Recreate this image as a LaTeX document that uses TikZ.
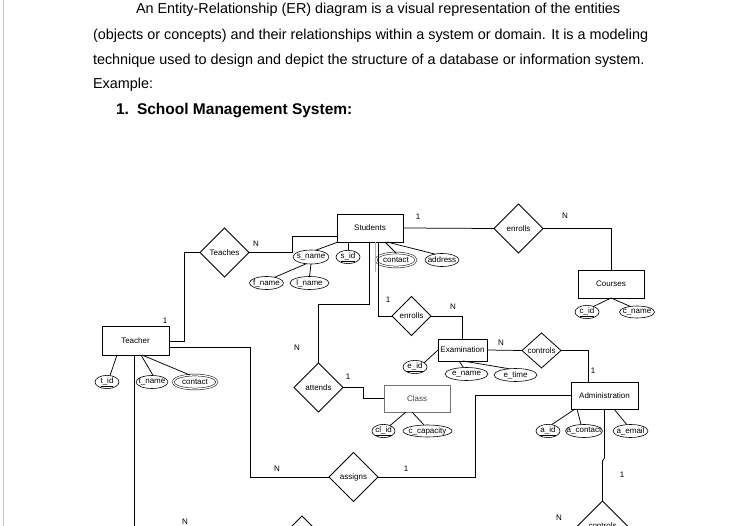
\documentclass[tikz,border=0pt]{standalone}
\usepackage{fontspec}
\setmainfont{Liberation Sans}
\usetikzlibrary{shapes.geometric}
\begin{document}
\begin{tikzpicture}[x=1pt,y=-1pt,
  every node/.style={inner sep=0pt, outer sep=0pt, font=\fontsize{8}{9}\selectfont},
  entbox/.style={draw, rectangle, line width=0.8pt},
  relbox/.style={draw, diamond, line width=0.8pt},
  attr/.style={draw, ellipse, line width=0.6pt},
  dattr/.style={draw, ellipse, line width=0.5pt, double, double distance=1.3pt},
  conn/.style={line width=0.75pt},
  card/.style={font=\fontsize{8}{9}\selectfont},
  bodytext/.style={anchor=base west, font=\fontsize{14.4}{16}\selectfont},
]
\useasboundingbox (0,0) rectangle (733,526);
\fill[white] (0,0) rectangle (733,526);
\draw[gray!45, line width=0.8pt] (3,0) -- (3,526);

% paragraph
\node[bodytext] (p1) at (136,14) {An Entity-Relationship (ER) diagram is a visual representation of the entities};
\node[bodytext] (p2) at (93,39.5) {(objects or concepts) and their relationships within a system or domain. It is a modeling};
\node[bodytext] (p3) at (93,64.5) {technique used to design and depict the structure of a database or information system.};
\node[bodytext] (p4) at (93,89) {Example:};
\node[anchor=base west, font=\fontsize{15.5}{17}\selectfont\bfseries] (h1) at (116,114.5) {1.};
\node[anchor=base west, font=\fontsize{15.5}{17}\selectfont\bfseries] (h2) at (137,114.5) {School Management System:};

% entities
\node[entbox, minimum width=66, minimum height=28] (students) at (370,228) {\makebox[0pt]{Students}};
\node[entbox, minimum width=66, minimum height=28] (courses) at (611,284) {\makebox[0pt]{Courses}};
\node[entbox, minimum width=67, minimum height=29] (teacher) at (135.5,340.5) {\makebox[0pt]{Teacher}};
\node[entbox, minimum width=49, minimum height=22] (exam) at (462.5,350) {\makebox[0pt]{Examination}};
\node[entbox, draw=black!55, text=black!75, minimum width=66, minimum height=27] (class) at (417,398.5) {\makebox[0pt]{Class}};
\node[entbox, minimum width=67, minimum height=27] (admin) at (604.5,395.5) {\makebox[0pt]{Administration}};

% relationships
\node[relbox, minimum width=49, minimum height=49] (teaches) at (224.5,252.5) {\makebox[0pt]{Teaches}};
\node[relbox, minimum width=49, minimum height=49] (enrolls) at (518.5,228.5) {\makebox[0pt]{enrolls}};
\node[relbox, minimum width=39, minimum height=39] (enrolls2) at (411.5,316) {\makebox[0pt]{enrolls}};
\node[relbox, minimum width=49, minimum height=49] (attends) at (318.5,387.5) {\makebox[0pt]{attends}};
\node[relbox, minimum width=39, minimum height=35] (controls) at (541.5,350.5) {\makebox[0pt]{controls}};
\node[relbox, minimum width=49, minimum height=49] (assigns) at (353.5,477) {\makebox[0pt]{assigns}};
\node[relbox, minimum width=50, minimum height=50] (controlsb) at (602.5,526) {\makebox[0pt]{controls}};
\node[relbox, minimum width=50, minimum height=50] (relbl) at (302,541) {};

% attributes
\node[attr, minimum width=36, minimum height=14] (sname) at (311,257) {\makebox[0pt]{s\_name}};
\node[attr, minimum width=24, minimum height=13] (sid) at (348,257) {\makebox[0pt]{\underline{s\_id}}};
\node[dattr, minimum width=40, minimum height=14] (scontact) at (396,260) {\makebox[0pt]{contact}};
\node[attr, minimum width=34, minimum height=13] (address) at (442,260) {\makebox[0pt]{address}};
\node[attr, minimum width=34, minimum height=13] (fname) at (266.5,283) {\makebox[0pt]{f\_name}};
\node[attr, minimum width=39, minimum height=13] (lname) at (309.5,283) {\makebox[0pt]{l\_name}};
\node[attr, minimum width=24, minimum height=12] (cid) at (587,312) {\makebox[0pt]{\underline{c\_id}}};
\node[attr, minimum width=35, minimum height=12] (cname) at (637,312) {\makebox[0pt]{c\_name}};
\node[attr, minimum width=24, minimum height=13] (tid) at (107,382) {\makebox[0pt]{\underline{t\_id}}};
\node[attr, minimum width=32, minimum height=13] (tname) at (152,382) {\makebox[0pt]{t\_name}};
\node[dattr, minimum width=44, minimum height=14] (tcontact) at (195,382) {\makebox[0pt]{contact}};
\node[attr, minimum width=24, minimum height=12] (eid) at (415,367) {\makebox[0pt]{\underline{e\_id}}};
\node[attr, minimum width=43, minimum height=13] (ename) at (466.5,374) {\makebox[0pt]{e\_name}};
\node[attr, minimum width=43, minimum height=13] (etime) at (515.5,375) {\makebox[0pt]{e\_time}};
\node[attr, minimum width=23, minimum height=12] (clid) at (383.5,431) {\makebox[0pt]{\underline{cl\_id}}};
\node[attr, minimum width=49, minimum height=12] (ccap) at (427.5,431) {\makebox[0pt]{c\_capacity}};
\node[attr, minimum width=24, minimum height=12] (aid) at (548,431) {\makebox[0pt]{\underline{a\_id}}};
\node[attr, minimum width=37, minimum height=13] (acontact) at (584,431) {\makebox[0pt]{a\_contact}};
\node[attr, minimum width=35, minimum height=13] (aemail) at (630.5,431) {\makebox[0pt]{a\_email}};

% free ends
\coordinate (tbot) at (134,530);

% connectors
\draw[conn] (teacher.east |- 0,341) -- (184,341) |- (teaches.west);
\draw[conn] (teaches.east) -- (292,252.5) |- (students.west |- 0,236);
\draw[conn] (students.east) -- (enrolls.west);
\draw[conn] (enrolls.east) -- (611,228.5) -- (courses.north);
\draw[conn] (students.south -| 378,0) |- (enrolls2.west);
\draw[gray!60, line width=0.8pt] (students.south -| 375,0) -- (375,272);
\draw[conn] (enrolls2.east) -| (exam.north);
\draw[conn] (students.south -| 369,0) -- (369,304) -| (attends.north);
\draw[conn] (attends.east) -- (363,387.5) |- (class.west);
\draw[conn] (exam.east) -- (controls.west);
\draw[conn] (controls.east) -| (admin.north -| 588,0);
\draw[conn] (teacher.east |- 0,347) -| (250,477) -- (assigns.west);
\draw[conn] (assigns.east) -- (475,477) |- (admin.west);
\draw[conn] (admin.south) -- (604.5,458) -- (602.5,461) -- (controlsb.north);
\draw[conn] (teacher.south -| 134,0) -- (tbot);

% attribute links
\draw[conn] (students.south -| 338,0) -- (sname.55);
\draw[conn] (students.south -| 348,0) -- (sid.north);
\draw[conn] (students.south -| 385,0) -- (scontact.north);
\draw[conn] (students.south -| 387,0) -- (address.140);
\draw[conn] (sname.south) -- (lname.north);
\draw[conn] (sname.235) -- (fname.35);
\draw[conn] (courses.south) -- (cid.40);
\draw[conn] (courses.south) -- (cname.140);
\draw[conn] (teacher.south -| 117,0) -- (tid.65);
\draw[conn] (teacher.south -| 141,0) -- (tname.80);
\draw[conn] (teacher.south -| 142,0) -- (tcontact.125);
\draw[conn] (eid.25) -- (exam.west);
\draw[conn] (exam.south -| 459,0) -- (ename.115);
\draw[conn] (exam.south -| 463,0) -- (etime.135);
\draw[conn] (class.south -| 406,0) -- (clid.40);
\draw[conn] (class.south -| 412,0) -- (ccap.120);
\draw[conn] (admin.south -| 575,0) -- (aid.60);
\draw[conn] (admin.south -| 577,0) -- (acontact.115);
\draw[conn] (admin.south -| 614,0) -- (aemail.120);

% cardinalities
\node[card] (c1) at (418,217) {1};
\node[card] (c2) at (565,216) {N};
\node[card] (c3) at (256,244) {N};
\node[card] (c4) at (165,321) {1};
\node[card] (c5) at (388,300) {1};
\node[card] (c6) at (453,307) {N};
\node[card] (c7) at (297,348) {N};
\node[card] (c8) at (348,377) {1};
\node[card] (c9) at (501,343) {N};
\node[card] (c10) at (593,371) {1};
\node[card] (c11) at (277,469) {N};
\node[card] (c12) at (406,469) {1};
\node[card] (c13) at (622,475) {1};
\node[card] (c14) at (559,518) {N};
\node[card] (c15) at (185,522) {N};
\end{tikzpicture}
\end{document}
